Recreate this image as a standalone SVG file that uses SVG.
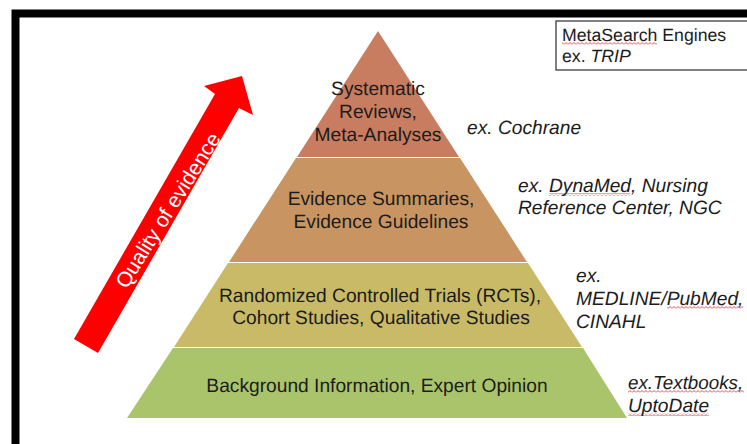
<svg xmlns="http://www.w3.org/2000/svg" width="747" height="444" viewBox="0 0 747 444">
<style>
text{font-family:"Liberation Sans",Arial,sans-serif;font-size:19.200px;fill:#1c1c1c;text-rendering:geometricPrecision}
.c{text-anchor:middle}
.i{font-style:italic}
</style>
<defs>
<pattern id="sq" width="4" height="3" patternUnits="userSpaceOnUse"><path d="M0 2.500L2 .5L4 2.500" fill="none" stroke="#e8343c" stroke-width=".9"/></pattern>
</defs>
<rect width="747" height="444" fill="#fff"/>
<g id="frame"><path d="M15.500 444V13.500H747" fill="none" stroke="#000" stroke-width="8"/></g>
<g id="arrow">
<path d="M74 339L98 353L239 108L253 115L242 76L204 86L215 94Z" fill="#f00"/>
<text transform="translate(174 214) rotate(-58)" class="c" style="fill:#fff;font-size:21px">Quality of evidence</text>
</g>
<g id="level-top">
<path d="M378 31L459 157H297Z" fill="#c97d60"/>
<text class="c" x="378" y="95">Systematic</text><text class="c" x="378" y="118">Reviews,</text><text class="c" x="378" y="141">Meta-Analyses</text>
</g>
<g id="level-summaries">
<path d="M296 158H460L527 262H229Z" fill="#c89562"/>
<text class="c" x="381" y="205">Evidence Summaries,</text><text class="c" x="381" y="228">Evidence Guidelines</text>
</g>
<g id="level-trials">
<path d="M228 263H528L582 347H174Z" fill="#c8ba66"/>
<text class="c" x="380" y="302">Randomized Controlled Trials (RCTs),</text><text class="c" x="381" y="324">Cohort Studies, Qualitative Studies</text>
</g>
<g id="level-background">
<path d="M173 348H583L627 418H127Z" fill="#aac46c"/>
<text class="c" x="377" y="392">Background Information, Expert Opinion</text>
</g>
<g id="label-cochrane"><text class="i" x="467" y="134">ex. Cochrane</text></g>
<g id="label-dynamed">
<rect x="549" y="193" width="81" height="3" fill="url(#sq)"/>
<text x="518" y="192" class="i">ex. DynaMed, Nursing</text><text x="518" y="214" class="i">Reference Center, NGC</text>
</g>
<g id="label-medline">
<rect x="667" y="306" width="76" height="3" fill="url(#sq)"/>
<text x="576" y="282" class="i">ex.</text><text x="576" y="305" class="i">MEDLINE/PubMed,</text><text x="576" y="328" class="i">CINAHL</text>
</g>
<g id="label-textbooks">
<rect x="628" y="390" width="116" height="3" fill="url(#sq)"/><rect x="628" y="413" width="81" height="3" fill="url(#sq)"/>
<text x="628" y="389" class="i" style="font-size:18.800px">ex.Textbooks,</text><text x="628" y="412" class="i">UptoDate</text>
</g>
<g id="metasearch">
<rect x="556" y="21" width="193" height="49" fill="#fff" stroke="#555" stroke-width="1.500"/>
<rect x="562" y="42" width="95" height="3" fill="url(#sq)"/>
<text x="562" y="41" style="font-size:17.700px">MetaSearch Engines</text><text x="562" y="62" style="font-size:17.700px">ex. <tspan class="i">TRIP</tspan></text>
</g>
</svg>
